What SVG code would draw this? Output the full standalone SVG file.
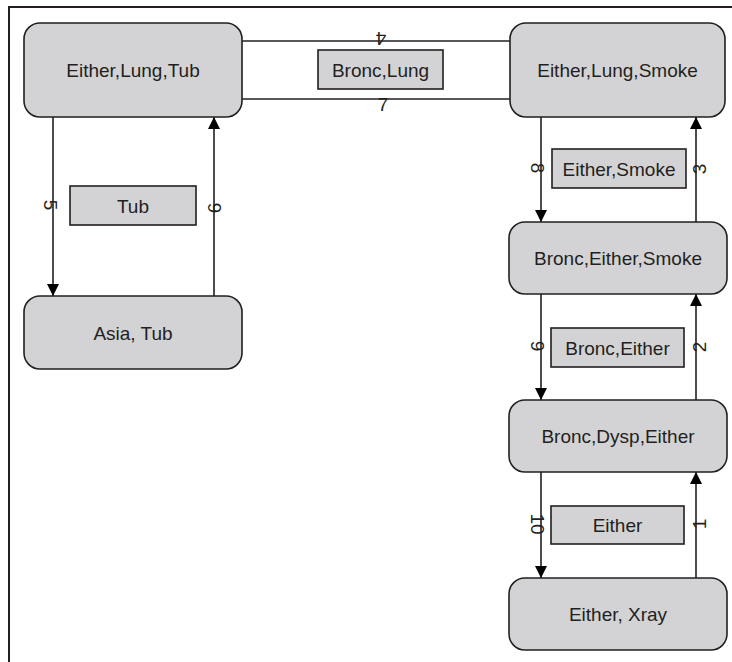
<svg xmlns="http://www.w3.org/2000/svg" width="732" height="662" viewBox="0 0 732 662">
<style>
.node rect{fill:#d3d3d5;stroke:#231f20;stroke-width:1.6}
.lbl rect{fill:#d3d3d5;stroke:#231f20;stroke-width:1.6}
text{font-family:"Liberation Sans",Arial,sans-serif;font-size:19px;fill:#231f20;text-anchor:middle}
.edges line{stroke:#231f20;stroke-width:1.6;fill:none}
.frame{stroke:#231f20;stroke-width:2;fill:none}
</style>
<defs>
<marker id="arr" viewBox="0 0 12 12" refX="12" refY="6" markerWidth="12" markerHeight="12" markerUnits="userSpaceOnUse" orient="auto">
<path d="M0,0 L12,6 L0,12 Z" fill="#000"/>
</marker>
</defs>
<rect width="732" height="662" fill="#fff"/>
<path class="frame" d="M9,662 V7 H732"/>

<g class="edges">
<line x1="242" y1="41" x2="510" y2="41"/>
<line x1="242" y1="99" x2="510" y2="99"/>
<line x1="53" y1="117" x2="53" y2="296" marker-end="url(#arr)"/>
<line x1="214" y1="296" x2="214" y2="117" marker-end="url(#arr)"/>
<line x1="541" y1="117" x2="541" y2="222" marker-end="url(#arr)"/>
<line x1="696" y1="222" x2="696" y2="117" marker-end="url(#arr)"/>
<line x1="541" y1="294" x2="541" y2="400" marker-end="url(#arr)"/>
<line x1="696" y1="400" x2="696" y2="294" marker-end="url(#arr)"/>
<line x1="541" y1="472" x2="541" y2="578" marker-end="url(#arr)"/>
<line x1="696" y1="578" x2="696" y2="472" marker-end="url(#arr)"/>
<text transform="translate(381,39) rotate(180)" y="7">4</text>
<text x="383" y="111">7</text>
<text transform="translate(51,205) rotate(90)" y="7">5</text>
<text transform="translate(214,208) rotate(-90)" y="7">6</text>
<text transform="translate(538,168) rotate(90)" y="7">8</text>
<text transform="translate(699,169) rotate(-90)" y="7">3</text>
<text transform="translate(538,346) rotate(90)" y="7">9</text>
<text transform="translate(699,347) rotate(-90)" y="7">2</text>
<text transform="translate(538,524) rotate(90)" y="7">10</text>
<text transform="translate(699,524) rotate(-90)" y="7">1</text>
</g>

<g id="lbl-bronc-lung" class="lbl"><rect x="318" y="50" width="125" height="39"/><text x="380.5" y="76.5">Bronc,Lung</text></g>
<g id="lbl-tub" class="lbl"><rect x="70" y="186" width="126" height="39"/><text x="133" y="212.5">Tub</text></g>
<g id="lbl-either-smoke" class="lbl"><rect x="552" y="149" width="134" height="39"/><text x="619" y="175.5">Either,Smoke</text></g>
<g id="lbl-bronc-either" class="lbl"><rect x="551" y="328" width="133" height="39"/><text x="617.5" y="354.5">Bronc,Either</text></g>
<g id="lbl-either" class="lbl"><rect x="551" y="506" width="133" height="38"/><text x="617.5" y="532">Either</text></g>

<g id="n-either-lung-tub" class="node"><rect x="24" y="23" width="218" height="94" rx="16"/><text x="133" y="77">Either,Lung,Tub</text></g>
<g id="n-either-lung-smoke" class="node"><rect x="510" y="23" width="215" height="94" rx="16"/><text x="617.5" y="77">Either,Lung,Smoke</text></g>
<g id="n-asia-tub" class="node"><rect x="24" y="296" width="218" height="73" rx="16"/><text x="133" y="339.5">Asia, Tub</text></g>
<g id="n-bronc-either-smoke" class="node"><rect x="509" y="222" width="218" height="72" rx="16"/><text x="618" y="265">Bronc,Either,Smoke</text></g>
<g id="n-bronc-dysp-either" class="node"><rect x="509" y="400" width="218" height="72" rx="16"/><text x="618" y="443">Bronc,Dysp,Either</text></g>
<g id="n-either-xray" class="node"><rect x="509" y="578" width="218" height="72" rx="16"/><text x="618" y="621">Either, Xray</text></g>
</svg>
